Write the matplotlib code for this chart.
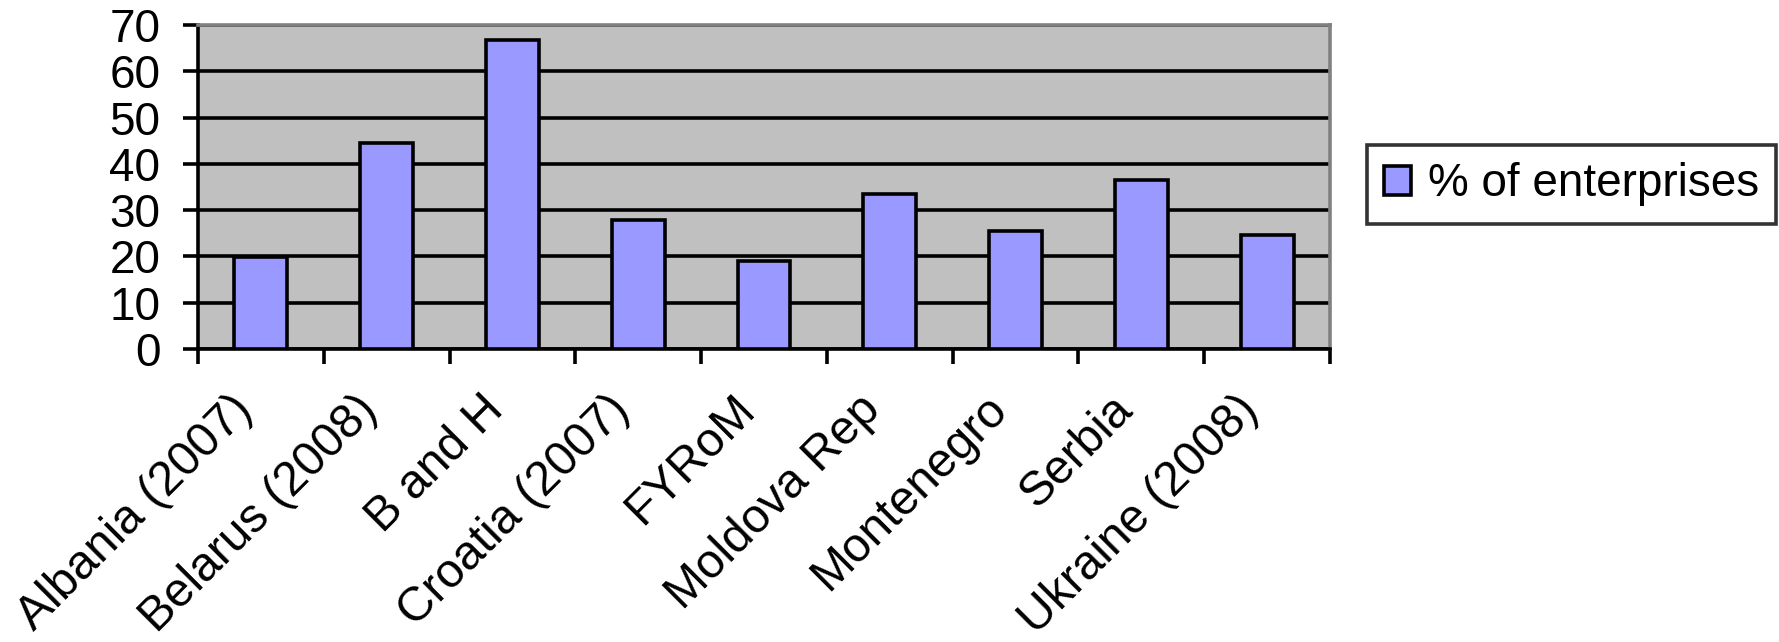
import matplotlib
matplotlib.use("Agg")
import matplotlib.pyplot as plt
from matplotlib.patches import Patch

categories = [
    "Albania (2007)", "Belarus (2008)", "B and H", "Croatia (2007)", "FYRoM",
    "Moldova Rep", "Montenegro", "Serbia", "Ukraine (2008)",
]
enterprises_pct = [19.9, 44.5, 66.8, 27.8, 19.0, 33.4, 25.5, 36.6, 24.6]
y_ticks = [0, 10, 20, 30, 40, 50, 60, 70]
series_label = "% of enterprises"

plt.rcParams["font.family"] = ["Liberation Sans", "DejaVu Sans"]

LW = 2.6

fig = plt.figure(figsize=(17.79, 6.42), dpi=100)
ax = fig.add_axes([198 / 1779, 1 - 349 / 642, (1330 - 198) / 1779, (349 - 25) / 642])
ax.set_facecolor("#C0C0C0")

x = list(range(len(categories)))
ax.bar(x, enterprises_pct, width=0.42, color="#9999FF", edgecolor="black",
       linewidth=LW, zorder=3)

ax.set_xlim(-0.5, len(categories) - 0.5)
ax.set_ylim(0, 70)
ax.set_yticks(y_ticks)
ax.set_yticklabels([str(v) for v in y_ticks], fontsize=33)
ax.yaxis.grid(True, color="black", linewidth=LW, zorder=0)
ax.set_axisbelow(True)

# Excel-style ticks between categories, labels at category centres
ax.set_xticks([i - 0.5 for i in range(len(categories) + 1)])
ax.set_xticklabels([])
ax.set_xticks(x, minor=True)
ax.set_xticklabels(categories, minor=True, rotation=45, ha="right",
                   va="bottom", rotation_mode="anchor", fontsize=34.5)
ax.tick_params(axis="x", which="minor", length=0, pad=50)
ax.tick_params(axis="x", which="major", length=11, width=LW, direction="out")
ax.tick_params(axis="y", length=11, width=LW, direction="out", pad=16)

for side in ("left", "bottom"):
    ax.spines[side].set_color("black")
    ax.spines[side].set_linewidth(LW)
for side in ("top", "right"):
    ax.spines[side].set_color("#808080")
    ax.spines[side].set_linewidth(LW)

handle = Patch(facecolor="#9999FF", edgecolor="black", linewidth=LW)
leg = fig.legend([handle], [series_label], loc="upper left",
                 bbox_to_anchor=(1367 / 1779, 1 - 145 / 642), fontsize=33,
                 frameon=True, fancybox=False, handlelength=0.59,
                 handleheight=0.59, handletextpad=0.35, borderpad=0.38,
                 borderaxespad=0)
leg.get_frame().set_edgecolor("black")
leg.get_frame().set_linewidth(LW)

fig.savefig("out.png", dpi=100)
